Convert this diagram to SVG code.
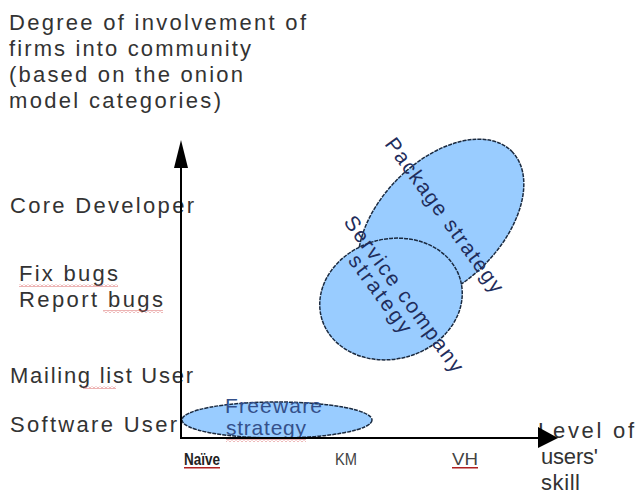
<svg xmlns="http://www.w3.org/2000/svg" width="638" height="498" viewBox="0 0 638 498">
<defs>
<pattern id="wave" width="4" height="3" patternUnits="userSpaceOnUse">
<path d="M0,2.5 L2,0.5 L4,2.5" fill="none" stroke="#d04040" stroke-width="0.8"/>
</pattern>
</defs>
<style>
.t{font-family:"Liberation Sans",Arial,sans-serif;font-size:22px;fill:#333}
.s{font-family:"Liberation Sans",Arial,sans-serif;font-size:21px;fill:#1f2d5c}
.x{font-family:"Liberation Sans",Arial,sans-serif;font-size:16px;fill:#444}
.e{fill:#99ccff;stroke:#1a2a40;stroke-width:1.5;stroke-dasharray:4 1}
.ax{stroke:#000;stroke-width:2;fill:none}
.w{fill:url(#wave)}
</style>
<rect width="638" height="498" fill="#fff"/>
<g id="title">
<text class="t" x="9" y="30" textLength="297" lengthAdjust="spacing">Degree of involvement of</text>
<text class="t" x="9" y="56" textLength="242" lengthAdjust="spacing">firms into community</text>
<text class="t" x="9" y="82" textLength="234" lengthAdjust="spacing">(based on the onion</text>
<text class="t" x="9" y="108" textLength="212" lengthAdjust="spacing">model categories)</text>
</g>
<g id="labels-y">
<text class="t" x="10" y="213" textLength="184" lengthAdjust="spacing">Core Developer</text>
<text class="t" x="19" y="281" textLength="99" lengthAdjust="spacing">Fix bugs</text>
<text class="t" x="19" y="307" textLength="144" lengthAdjust="spacing">Report bugs</text>
<text class="t" x="10" y="383" textLength="183" lengthAdjust="spacing">Mailing list User</text>
<text class="t" x="10" y="432" textLength="167" lengthAdjust="spacing">Software User</text>
</g>
<g id="labels-x">
<text class="x" x="184" y="465" style="font-weight:bold;fill:#222" textLength="36" lengthAdjust="spacingAndGlyphs">Naïve</text>
<text class="x" x="335" y="465" textLength="22" lengthAdjust="spacingAndGlyphs">KM</text>
<text class="x" x="452" y="465" textLength="26" lengthAdjust="spacingAndGlyphs">VH</text>
<text class="t" x="538" y="438" textLength="96" lengthAdjust="spacing">Level of</text>
<text class="t" x="541" y="464" textLength="57" lengthAdjust="spacing">users'</text>
<text class="t" x="541" y="490" textLength="39" lengthAdjust="spacing">skill</text>
</g>
<g id="spellcheck">
<rect class="w" x="19" y="284" width="99" height="3"/>
<rect class="w" x="103" y="310" width="60" height="3"/>
<rect class="w" x="83" y="386" width="33" height="3"/>
<rect class="w" x="225" y="416" width="97" height="3"/>
<rect class="w" x="226" y="439" width="80" height="3"/>
<rect x="184" y="467" width="36" height="1.5" fill="#b02020"/>
<rect x="452" y="467" width="26" height="1.5" fill="#b02020"/>
</g>
<g id="package">
<ellipse class="e" cx="441" cy="222" rx="100" ry="61" transform="rotate(-45 441 222)"/>
<text class="s" x="384" y="144" transform="rotate(54 384 144)" textLength="186" lengthAdjust="spacing">Package strategy</text>
</g>
<g id="service">
<ellipse class="e" cx="391" cy="299" rx="72" ry="60" transform="rotate(-15 391 299)"/>
<g transform="translate(343 222) rotate(54)">
<text class="s" x="0" y="0" textLength="188" lengthAdjust="spacing">Service company</text>
<text class="s" x="34" y="19" textLength="92" lengthAdjust="spacing">strategy</text>
</g>
</g>
<g id="freeware">
<ellipse class="e" cx="277" cy="420" rx="95" ry="18"/>
<text class="s" x="225" y="413" textLength="97" lengthAdjust="spacing" style="fill:#34508a">Freeware</text>
<text class="s" x="226" y="435" textLength="80" lengthAdjust="spacing" style="fill:#34508a">strategy</text>
</g>
<g id="connectors">
<line class="ax" x1="181" y1="439" x2="181" y2="165"/>
<polygon points="181,140 174,168 188,168" fill="#000"/>
<line class="ax" x1="180" y1="438" x2="542" y2="438"/>
<polygon points="558,438 538,427 538,448" fill="#000"/>
</g>
</svg>
